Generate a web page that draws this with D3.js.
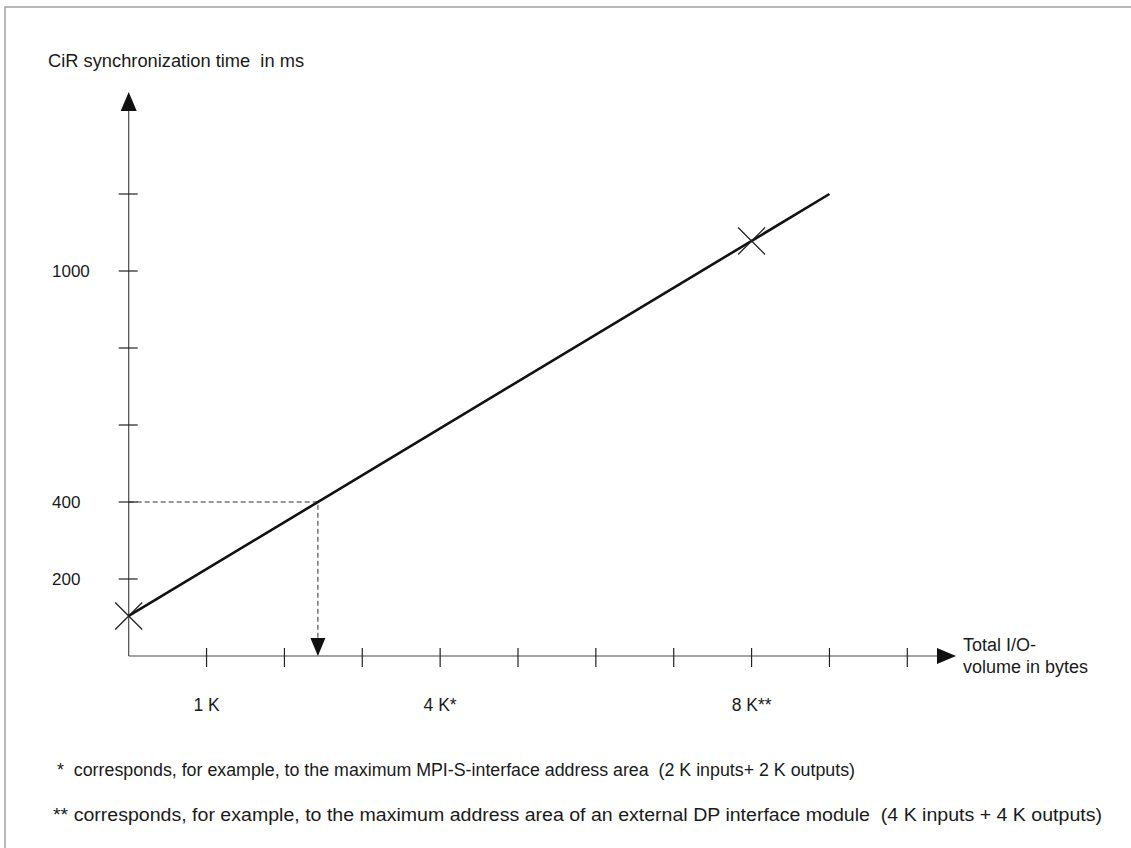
<!DOCTYPE html>
<html>
<head>
<meta charset="utf-8">
<script src="https://cdn.jsdelivr.net/npm/d3@7"></script>
<style>
    html, body { margin: 0; padding: 0; background: #fff; }
    svg { display: block; }
    text { font-family: "Liberation Sans", Arial, sans-serif; fill: #1a1a1a; white-space: pre; }
</style>
</head>
<body>
<svg id="chart" width="1131" height="848"></svg>
<script>
// values
var xTicks = [1, 2, 3, 4, 5, 6, 7, 8, 9, 10];           // K bytes
var xTickLabels = [
    { v: 1, label: '1 K' },
    { v: 4, label: '4 K*' },
    { v: 8, label: '8 K**' }
];
var yTicks = [200, 400, 600, 800, 1000, 1200];           // ms
var yTickLabels = [200, 400, 1000];

var lineVolume = [0, 9];
var lineTime = [104, 1200];
var markerVolume = [0, 8];
var markerTime = [104, 1078];
var readoutVolume = 2.43;
var readoutTime = 400;

var yTitle = 'CiR synchronization time  in ms';
var xTitle = ['Total I/O-', 'volume in bytes'];
var footnotes = [
    '*  corresponds, for example, to the maximum MPI-S-interface address area  (2 K inputs+ 2 K outputs)',
    '** corresponds, for example, to the maximum address area of an external DP interface module  (4 K inputs + 4 K outputs)'
];
var footnoteWidths = [798, 1049];

var svg = d3.select('#chart');

var x = d3.scaleLinear().domain([0, 10]).range([128.7, 907.3]);
var y = d3.scaleLinear().domain([0, 1200]).range([656, 194]);

var axisColor = '#4a4a4a';

// frame
svg.append('path')
    .attr('d', 'M5,848 L5,7 L1131,7')
    .attr('fill', 'none')
    .attr('stroke', '#a0a0a0')
    .attr('stroke-width', 1.5);

function arrow(tipX, tipY, dir, len, half) {
    var pts;
    if (dir === 'up') {
        pts = [[tipX, tipY], [tipX - half, tipY + len], [tipX + half, tipY + len]];
    } else if (dir === 'down') {
        pts = [[tipX, tipY], [tipX - half, tipY - len], [tipX + half, tipY - len]];
    } else {
        pts = [[tipX, tipY], [tipX - len, tipY - half], [tipX - len, tipY + half]];
    }
    svg.append('polygon')
        .attr('points', pts.map(function (p) { return p.join(','); }).join(' '))
        .attr('fill', '#111');
}

var x0 = x(0), y0 = y(0);

// axes
svg.append('line')
    .attr('x1', x0).attr('y1', y0).attr('x2', x0).attr('y2', 100)
    .attr('stroke', axisColor).attr('stroke-width', 1.2);
arrow(x0, 92, 'up', 19, 8);

svg.append('line')
    .attr('x1', x0).attr('y1', y0).attr('x2', 945).attr('y2', y0)
    .attr('stroke', axisColor).attr('stroke-width', 1.2);
arrow(956, y0, 'right', 19, 8);

// ticks
svg.selectAll('.ytick').data(yTicks).enter().append('line')
    .attr('class', 'ytick')
    .attr('x1', x0 - 10).attr('x2', x0 + 9)
    .attr('y1', function (d) { return y(d); })
    .attr('y2', function (d) { return y(d); })
    .attr('stroke', '#222').attr('stroke-width', 1.2);

svg.selectAll('.xtick').data(xTicks).enter().append('line')
    .attr('class', 'xtick')
    .attr('x1', function (d) { return x(d); })
    .attr('x2', function (d) { return x(d); })
    .attr('y1', y0 - 8).attr('y2', y0 + 11)
    .attr('stroke', '#222').attr('stroke-width', 1.2);

svg.selectAll('.ylabel').data(yTickLabels).enter().append('text')
    .attr('class', 'ylabel')
    .attr('x', 52)
    .attr('y', function (d) { return y(d); })
    .attr('dy', '0.36em')
    .style('font-size', '17px')
    .text(function (d) { return d; });

svg.selectAll('.xlabel').data(xTickLabels).enter().append('text')
    .attr('class', 'xlabel')
    .attr('x', function (d) { return x(d.v); })
    .attr('y', 711)
    .attr('text-anchor', 'middle')
    .style('font-size', '17.5px')
    .text(function (d) { return d.label; });

// titles
svg.append('text')
    .attr('x', 48).attr('y', 67)
    .style('font-size', '18.3px')
    .text(yTitle);

svg.selectAll('.xtitle').data(xTitle).enter().append('text')
    .attr('class', 'xtitle')
    .attr('x', 963)
    .attr('y', function (d, i) { return 651 + i * 22; })
    .style('font-size', '18px')
    .text(function (d) { return d; });

// readout dashes
var rx = x(readoutVolume), ry = y(readoutTime);
svg.append('path')
    .attr('d', 'M' + x0 + ',' + ry + ' L' + rx + ',' + ry + ' L' + rx + ',' + (y0 - 17))
    .attr('fill', 'none')
    .attr('stroke', '#333')
    .attr('stroke-width', 1)
    .attr('stroke-dasharray', '5,3');
arrow(rx, y0, 'down', 18, 7.5);

// line
var line = d3.line()
    .x(function (d) { return x(d[0]); })
    .y(function (d) { return y(d[1]); });

svg.append('path')
    .datum(d3.zip(lineVolume, lineTime))
    .attr('d', line)
    .attr('fill', 'none')
    .attr('stroke', '#111')
    .attr('stroke-width', 2.6);

// X markers
var m = 13.5;
svg.selectAll('.marker').data(d3.zip(markerVolume, markerTime)).enter().append('path')
    .attr('class', 'marker')
    .attr('d', function (d) {
        var cx = x(d[0]), cy = y(d[1]);
        return 'M' + (cx - m) + ',' + (cy - m) + ' L' + (cx + m) + ',' + (cy + m) +
            ' M' + (cx - m) + ',' + (cy + m) + ' L' + (cx + m) + ',' + (cy - m);
    })
    .attr('fill', 'none')
    .attr('stroke', '#222')
    .attr('stroke-width', 1.3);

// footnotes
svg.selectAll('.foot').data(footnotes).enter().append('text')
    .attr('class', 'foot')
    .attr('x', function (d, i) { return i === 0 ? 57 : 53; })
    .attr('y', function (d, i) { return 776 + i * 45; })
    .attr('textLength', function (d, i) { return footnoteWidths[i]; })
    .attr('lengthAdjust', 'spacingAndGlyphs')
    .style('font-size', '17.5px')
    .text(function (d) { return d; });
</script>
</body>
</html>
